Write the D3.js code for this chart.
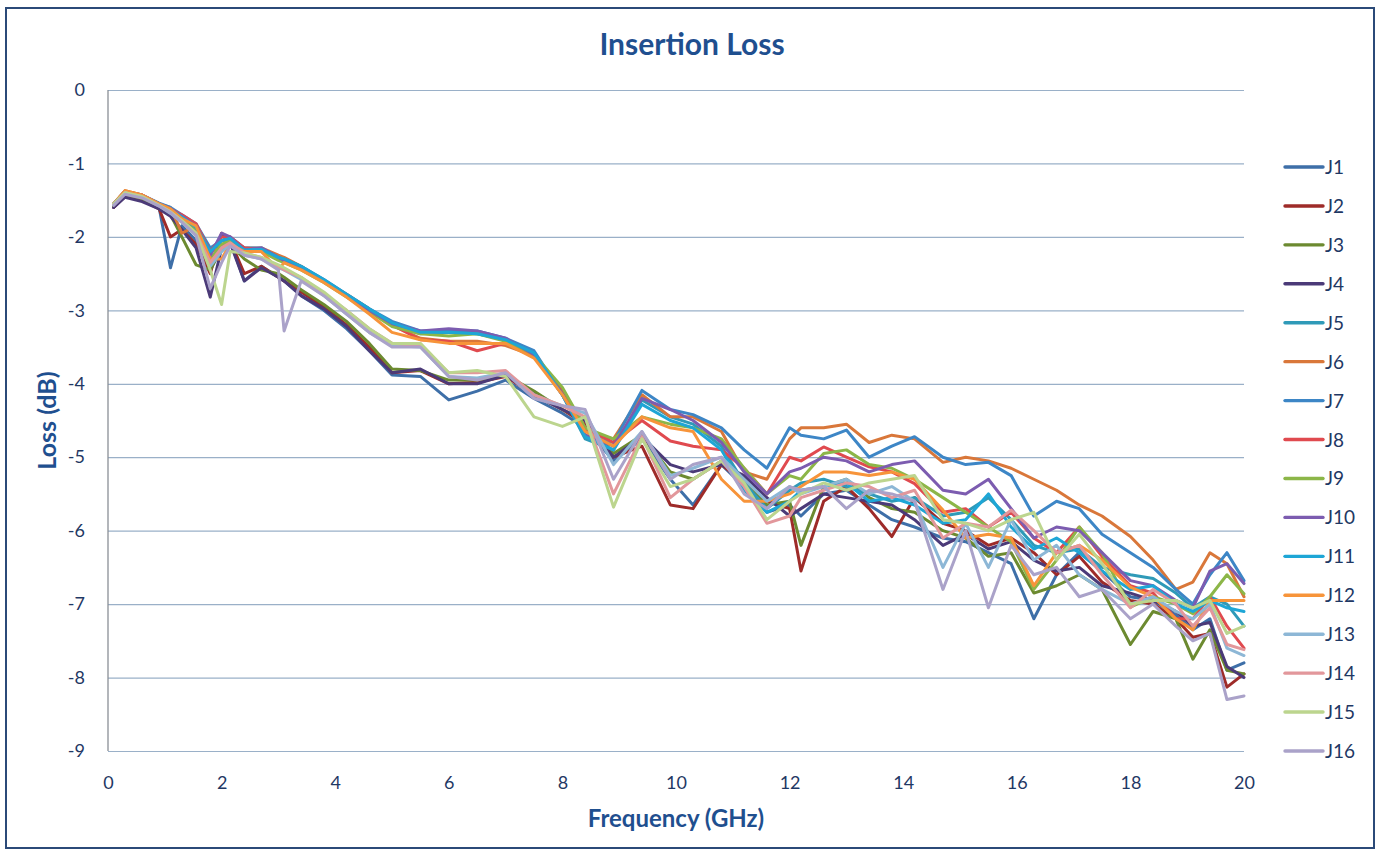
<html>
<head>
<meta charset="utf-8">
<style>
  body { margin: 0; background: #ffffff; }
  svg { font-family: Lato, "Open Sans", sans-serif; }
  .grid line { stroke: #9ab0c8; stroke-width: 1.2; }
  .grid path { display: none; }
  .tick text { fill: #1f3864; }
  .series { fill: none; stroke-width: 3; stroke-linejoin: round; stroke-linecap: round; }
</style>
</head>
<body>
<script src="https://d3js.org/d3.v7.min.js"></script>
<script>
// frequency points (GHz)
var freq = [0.1, 0.3, 0.6, 0.9, 1.1, 1.3, 1.55, 1.8, 2.0, 2.15, 2.4, 2.7, 3.0, 3.1, 3.4, 3.8, 4.2, 4.6, 5.0, 5.5,
            6.0, 6.5, 7.0, 7.5, 8.0, 8.4, 8.9, 9.4, 9.9, 10.3, 10.8, 11.2, 11.6, 12.0, 12.2, 12.6, 13.0, 13.4, 13.8, 14.2,
            14.7, 15.1, 15.5, 15.9, 16.3, 16.7, 17.1, 17.5, 18.0, 18.4, 18.8, 19.1, 19.4, 19.7, 20.0];

// insertion loss (dB)
var j1 = [-1.6, -1.45, -1.5, -1.6, -2.42, -1.85, -2.05, -2.45, -2.15, -2.05, -2.6, -2.4, -2.55, -2.6, -2.8, -3.0, -3.25, -3.55, -3.88, -3.9,
          -4.22, -4.1, -3.95, -4.2, -4.4, -4.6, -5.05, -4.75, -5.3, -5.65, -5.1, -5.4, -5.75, -5.65, -5.8, -5.5, -5.45, -5.65, -5.85, -5.95,
          -6.1, -6.15, -6.3, -6.45, -7.2, -6.6, -6.3, -6.55, -6.9, -6.95, -7.15, -7.35, -7.2, -7.9, -7.8];
var j2 = [-1.6, -1.45, -1.5, -1.62, -2.0, -1.9, -2.1, -2.5, -1.95, -2.05, -2.5, -2.4, -2.55, -2.6, -2.75, -2.95, -3.2, -3.5, -3.85, -3.82,
          -4.0, -3.98, -3.9, -4.15, -4.35, -4.55, -5.0, -4.85, -5.65, -5.7, -5.1, -5.35, -5.6, -5.7, -6.55, -5.6, -5.4, -5.7, -6.08, -5.55,
          -5.9, -6.0, -6.2, -6.1, -6.3, -6.6, -6.35, -6.7, -6.95, -7.0, -7.2, -7.45, -7.4, -8.13, -7.95];
var j3 = [-1.58, -1.42, -1.48, -1.6, -1.7, -2.0, -2.38, -2.45, -2.15, -2.1, -2.3, -2.45, -2.5, -2.55, -2.72, -2.92, -3.15, -3.45, -3.8, -3.82,
          -3.95, -3.95, -3.88, -4.1, -4.35, -4.5, -4.95, -4.7, -5.2, -5.3, -5.05, -5.3, -5.65, -5.6, -6.2, -5.4, -5.3, -5.55, -5.7, -5.75,
          -6.0, -6.1, -6.35, -6.3, -6.85, -6.75, -6.6, -6.8, -7.55, -7.1, -7.2, -7.75, -7.35, -7.9, -7.95];
var j4 = [-1.6, -1.46, -1.52, -1.62, -1.72, -1.9, -2.15, -2.82, -2.15, -2.08, -2.6, -2.42, -2.55, -2.6, -2.8, -2.98, -3.22, -3.55, -3.85, -3.8,
          -4.0, -4.0, -3.88, -4.15, -4.35, -4.5, -5.0, -4.72, -5.1, -5.2, -5.1, -5.25, -5.55, -5.8, -5.7, -5.5, -5.55, -5.6, -5.65, -5.85,
          -6.2, -6.05, -6.25, -6.15, -6.4, -6.55, -6.5, -6.75, -6.85, -6.95, -7.1, -7.3, -7.25, -7.85, -8.0];
var j5 = [-1.56, -1.39, -1.44, -1.55, -1.63, -1.73, -1.88, -2.2, -2.05, -2.05, -2.2, -2.18, -2.3, -2.32, -2.42, -2.6, -2.8, -3.0, -3.2, -3.32,
          -3.3, -3.32, -3.4, -3.6, -4.15, -4.75, -4.9, -4.22, -4.45, -4.55, -4.85, -5.35, -5.7, -5.45, -5.35, -5.3, -5.4, -5.5, -5.6, -5.55,
          -5.8, -5.75, -5.55, -5.85, -6.2, -6.3, -6.25, -6.5, -6.6, -6.65, -6.85, -7.05, -6.9, -7.0, -7.3];
var j6 = [-1.55, -1.37, -1.43, -1.55, -1.6, -1.95, -1.85, -2.2, -2.15, -2.05, -2.15, -2.15, -2.25, -2.28, -2.4, -2.6, -2.78, -2.98, -3.2, -3.38,
          -3.42, -3.42, -3.48, -3.62, -4.1, -4.65, -4.75, -4.15, -4.45, -4.45, -4.65, -5.2, -5.3, -4.75, -4.6, -4.6, -4.55, -4.8, -4.7, -4.75,
          -5.07, -5.0, -5.05, -5.15, -5.3, -5.45, -5.65, -5.8, -6.08, -6.4, -6.8, -6.7, -6.3, -6.45, -6.9];
var j7 = [-1.55, -1.38, -1.43, -1.54, -1.6, -1.7, -1.82, -2.15, -2.05, -2.0, -2.15, -2.15, -2.28, -2.3, -2.4, -2.58, -2.78, -2.98, -3.15, -3.28,
          -3.28, -3.28, -3.38, -3.55, -4.15, -4.7, -4.8, -4.09, -4.35, -4.42, -4.6, -4.9, -5.15, -4.6, -4.7, -4.75, -4.63, -5.0, -4.85, -4.72,
          -5.0, -5.1, -5.07, -5.25, -5.8, -5.6, -5.7, -6.05, -6.3, -6.5, -6.8, -7.0, -6.6, -6.3, -6.68];
var j8 = [-1.55, -1.38, -1.43, -1.55, -1.62, -1.7, -1.82, -2.2, -2.0, -2.0, -2.15, -2.17, -2.3, -2.32, -2.42, -2.6, -2.8, -3.0, -3.2, -3.4,
          -3.42, -3.55, -3.45, -3.6, -4.1, -4.6, -4.8, -4.5, -4.78, -4.85, -4.9, -5.15, -5.5, -5.0, -5.05, -4.86, -5.0, -5.13, -5.2, -5.36,
          -5.75, -5.7, -5.95, -5.75, -6.1, -6.3, -5.95, -6.35, -6.75, -6.85, -7.2, -7.2, -6.9, -7.3, -7.6];
var j9 = [-1.56, -1.4, -1.45, -1.56, -1.64, -1.75, -1.9, -2.3, -2.1, -2.05, -2.2, -2.2, -2.32, -2.35, -2.45, -2.62, -2.82, -3.02, -3.22, -3.32,
          -3.35, -3.32, -3.42, -3.6, -4.05, -4.6, -4.75, -4.45, -4.55, -4.6, -4.75, -5.15, -5.5, -5.25, -5.3, -4.95, -4.9, -5.1, -5.15, -5.3,
          -5.55, -5.75, -5.95, -6.15, -6.8, -6.4, -5.95, -6.3, -7.04, -6.9, -7.0, -7.13, -6.9, -6.6, -6.86];
var j10 = [-1.56, -1.39, -1.44, -1.55, -1.62, -1.72, -1.85, -2.25, -1.95, -2.0, -2.18, -2.15, -2.28, -2.32, -2.42, -2.6, -2.8, -3.0, -3.18, -3.28,
           -3.25, -3.28, -3.38, -3.6, -4.15, -4.7, -4.85, -4.2, -4.35, -4.5, -4.8, -5.2, -5.5, -5.2, -5.15, -5.0, -5.05, -5.2, -5.1, -5.05,
           -5.45, -5.5, -5.3, -5.7, -6.1, -5.95, -6.0, -6.3, -6.68, -6.75, -6.95, -7.05, -6.55, -6.45, -6.72];
var j11 = [-1.55, -1.38, -1.44, -1.55, -1.63, -1.73, -1.87, -2.2, -2.05, -2.02, -2.18, -2.17, -2.28, -2.3, -2.4, -2.58, -2.78, -2.98, -3.17, -3.3,
           -3.3, -3.32, -3.4, -3.58, -4.15, -4.72, -4.9, -4.28, -4.5, -4.6, -4.9, -5.45, -5.75, -5.6, -5.45, -5.4, -5.35, -5.6, -5.55, -5.65,
           -5.9, -5.85, -5.5, -5.95, -6.25, -6.1, -6.3, -6.55, -6.8, -6.75, -7.0, -7.1, -6.95, -7.05, -7.1];
var j12 = [-1.55, -1.37, -1.43, -1.55, -1.62, -1.75, -1.85, -2.3, -2.3, -2.1, -2.2, -2.2, -2.45, -2.35, -2.45, -2.62, -2.82, -3.05, -3.3, -3.4,
           -3.45, -3.45, -3.45, -3.65, -4.15, -4.65, -4.85, -4.45, -4.6, -4.65, -5.3, -5.6, -5.6, -5.5, -5.4, -5.2, -5.2, -5.25, -5.2, -5.3,
           -5.72, -6.1, -6.05, -6.1, -6.75, -6.3, -6.2, -6.4, -6.77, -6.9, -7.2, -7.35, -6.95, -6.95, -6.95];
var j13 = [-1.56, -1.4, -1.46, -1.58, -1.68, -1.8, -1.98, -2.4, -2.2, -2.1, -2.25, -2.3, -2.42, -2.45, -2.58, -2.8, -3.05, -3.3, -3.48, -3.5,
           -3.9, -3.92, -3.85, -4.15, -4.3, -4.4, -5.1, -4.65, -5.25, -5.15, -5.0, -5.3, -5.6, -5.4, -5.5, -5.4, -5.3, -5.5, -5.4, -5.6,
           -6.5, -5.9, -6.5, -5.85, -6.4, -6.2, -6.6, -6.8, -7.0, -6.9, -7.1, -7.2, -7.0, -7.6, -7.7];
var j14 = [-1.55, -1.4, -1.45, -1.57, -1.66, -1.78, -1.95, -2.35, -2.15, -2.08, -2.22, -2.28, -2.4, -2.45, -2.55, -2.78, -3.0, -3.25, -3.45, -3.48,
           -3.85, -3.85, -3.82, -4.15, -4.3, -4.45, -5.5, -4.72, -5.55, -5.3, -5.05, -5.4, -5.9, -5.8, -5.55, -5.45, -5.35, -5.4, -5.55, -5.45,
           -6.1, -5.9, -5.95, -5.72, -6.0, -6.3, -6.2, -6.6, -7.05, -6.8, -7.0, -7.3, -7.05, -7.55, -7.62];
var j15 = [-1.55, -1.4, -1.45, -1.57, -1.66, -1.78, -1.95, -2.45, -2.92, -2.2, -2.22, -2.28, -2.38, -2.42, -2.55, -2.75, -3.0, -3.25, -3.45, -3.45,
           -3.85, -3.82, -3.9, -4.45, -4.58, -4.45, -5.68, -4.75, -5.4, -5.3, -5.05, -5.35, -5.85, -5.6, -5.5, -5.35, -5.45, -5.35, -5.3, -5.25,
           -5.85, -5.9, -6.0, -5.85, -5.75, -6.4, -6.05, -6.45, -7.0, -6.95, -6.95, -7.05, -6.95, -7.4, -7.3];
var j16 = [-1.57, -1.42, -1.47, -1.58, -1.67, -1.8, -1.98, -2.7, -2.35, -2.12, -2.25, -2.3, -2.45, -3.28, -2.6, -2.8, -3.05, -3.3, -3.5, -3.5,
           -3.9, -3.95, -3.85, -4.2, -4.3, -4.35, -5.3, -4.65, -5.3, -5.1, -5.0, -5.5, -5.7, -5.4, -5.45, -5.4, -5.7, -5.45, -5.5, -5.6,
           -6.8, -6.0, -7.05, -6.2, -6.6, -6.5, -6.9, -6.8, -7.2, -7.0, -7.3, -7.5, -7.4, -8.3, -8.25];

var names = ["J1", "J2", "J3", "J4", "J5", "J6", "J7", "J8", "J9", "J10", "J11", "J12", "J13", "J14", "J15", "J16"];
var values = [j1, j2, j3, j4, j5, j6, j7, j8, j9, j10, j11, j12, j13, j14, j15, j16];
var colors = ["#3e6fa8", "#9e2b29", "#6c8a30", "#4b3a78", "#2f9ab8", "#d9773a", "#3d86c6", "#e04a4f",
              "#8cb648", "#7c5cb0", "#1ea6d6", "#f7943a", "#8db7d6", "#e2979b", "#bcd58e", "#aaa2c9"];
var xTicks = [0, 2, 4, 6, 8, 10, 12, 14, 16, 18, 20];
var yTicks = [0, -1, -2, -3, -4, -5, -6, -7, -8, -9];

var W = 1380, H = 852;
var margin = {top: 90, right: 136, bottom: 101, left: 108};

var svg = d3.select("body").append("svg")
    .attr("width", W)
    .attr("height", H);

// outer frame
svg.append("rect")
    .attr("x", 6).attr("y", 8)
    .attr("width", W - 12).attr("height", H - 12)
    .attr("fill", "#ffffff")
    .attr("stroke", "#2b4a78")
    .attr("stroke-width", 2);

var x = d3.scaleLinear().domain([0, 20]).range([margin.left, W - margin.right]);
var y = d3.scaleLinear().domain([-9, 0]).range([H - margin.bottom, margin.top]);

// plain hyphen minus, like the original
var fmt = function(d) { return String(d); };

// horizontal grid lines
svg.append("g")
    .attr("class", "grid")
    .attr("transform", "translate(" + margin.left + ",0)")
    .call(d3.axisLeft(y).tickValues(yTicks).tickSize(-(x(20) - x(0))).tickFormat(""));

// y axis line
svg.append("line")
    .attr("x1", x(0)).attr("x2", x(0))
    .attr("y1", y(0)).attr("y2", y(-9))
    .attr("stroke", "#8a8f96")
    .attr("stroke-width", 1.3);

// y tick labels
svg.append("g")
    .attr("transform", "translate(" + (margin.left - 20) + ",0)")
    .call(d3.axisLeft(y).tickValues(yTicks).tickSize(0).tickFormat(fmt))
    .call(function(g) { g.select(".domain").remove(); })
    .selectAll("text")
    .attr("font-size", 18)
    .attr("font-family", "Lato, 'Open Sans', sans-serif");

// x tick labels
svg.append("g")
    .attr("transform", "translate(0," + (y(-9) + 22) + ")")
    .call(d3.axisBottom(x).tickValues(xTicks).tickSize(0).tickFormat(fmt))
    .call(function(g) { g.select(".domain").remove(); })
    .selectAll("text")
    .attr("font-size", 18)
    .attr("font-family", "Lato, 'Open Sans', sans-serif");

// series lines
var line = d3.line()
    .x(function(d, i) { return x(freq[i]); })
    .y(function(d) { return y(d); });

svg.append("g").selectAll("path")
    .data(values)
    .enter().append("path")
    .attr("class", "series")
    .attr("stroke", function(d, i) { return colors[i]; })
    .attr("d", line);

// title
svg.append("text")
    .attr("x", 692).attr("y", 55)
    .attr("text-anchor", "middle")
    .attr("font-size", 30)
    .attr("font-weight", "bold")
    .attr("fill", "#1f4f8f")
    .text("Insertion Loss");

// axis titles
svg.append("text")
    .attr("transform", "translate(56," + ((y(0) + y(-9)) / 2) + ")rotate(-90)")
    .attr("text-anchor", "middle")
    .attr("font-size", 25)
    .attr("font-weight", "bold")
    .attr("fill", "#1f4f8f")
    .text("Loss (dB)");

svg.append("text")
    .attr("x", (x(0) + x(20)) / 2).attr("y", 827)
    .attr("text-anchor", "middle")
    .attr("font-size", 24)
    .attr("font-weight", "bold")
    .attr("fill", "#1f4f8f")
    .text("Frequency (GHz)");

// legend
var ly = d3.scaleLinear().domain([0, 15]).range([167, 751]);
var legend = svg.append("g").selectAll("g")
    .data(names)
    .enter().append("g")
    .attr("transform", function(d, i) { return "translate(1285," + ly(i) + ")"; });

legend.append("line")
    .attr("x1", 0).attr("x2", 38)
    .attr("stroke", function(d, i) { return colors[i]; })
    .attr("stroke-width", 3.4)
    .attr("stroke-linecap", "round");

legend.append("text")
    .attr("x", 40).attr("y", 7)
    .attr("font-size", 19)
    .attr("fill", "#1f3864")
    .text(function(d) { return d; });
</script>
</body>
</html>
